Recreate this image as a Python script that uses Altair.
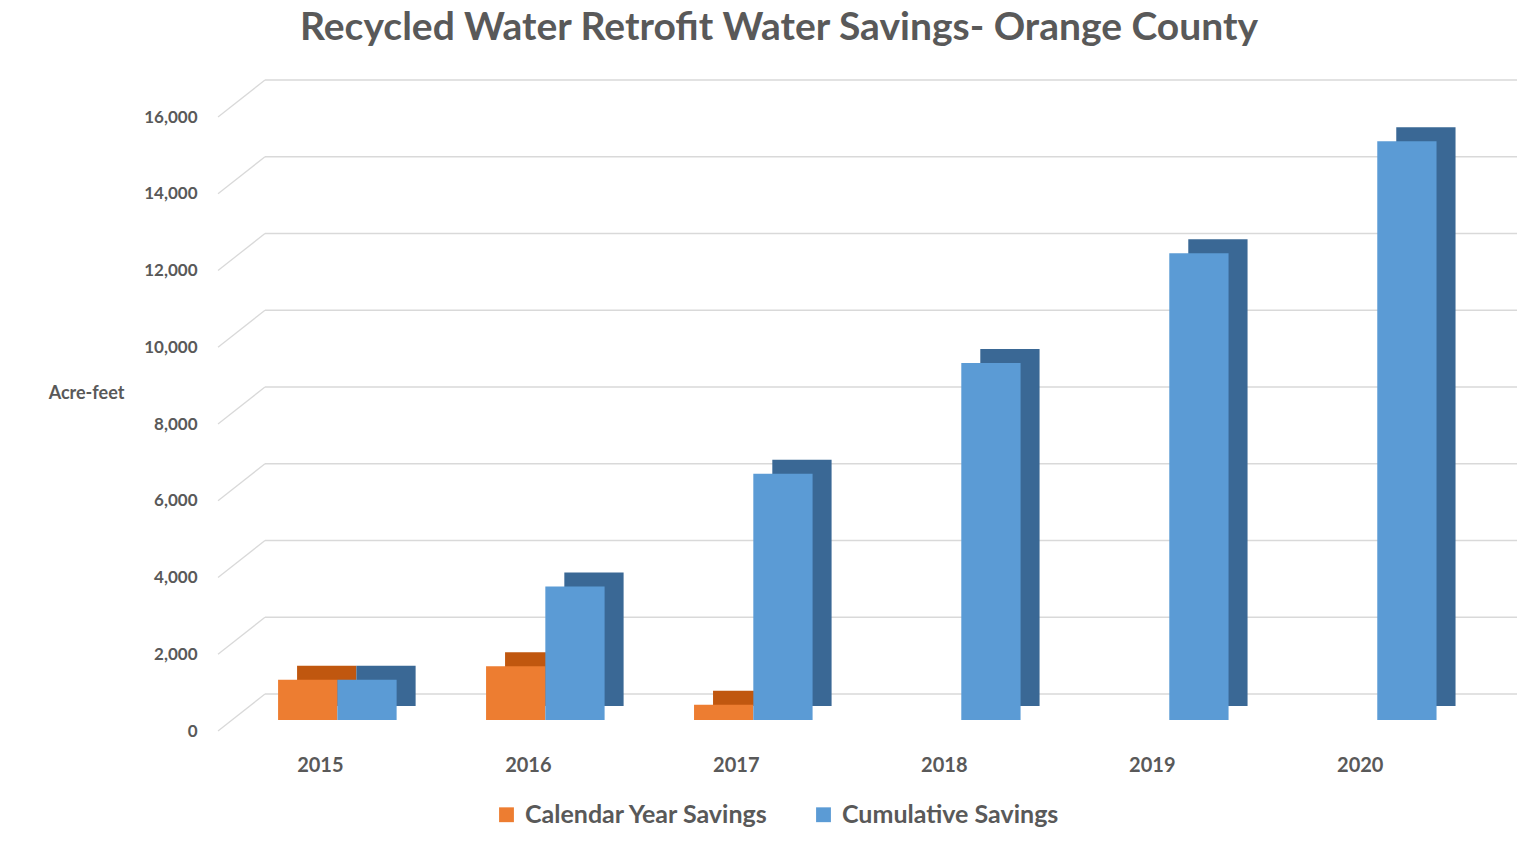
import altair as alt
import pandas as pd

years = ["2015", "2016", "2017", "2018", "2019", "2020"]
calendar_savings = [1050, 1400, 400, None, None, None]
cumulative_savings = [1050, 3480, 6420, 9300, 12160, 15080]
series_names = ["Calendar Year Savings", "Cumulative Savings"]
tick_values = [0, 2000, 4000, 6000, 8000, 10000, 12000, 14000, 16000]
front_colors = ["#ED7D31", "#5B9BD5"]
dark_colors = ["#C0570F", "#3A6895"]

rows = []
for i, y in enumerate(years):
    rows.append({"Year": y, "Series": series_names[0], "Value": calendar_savings[i]})
    rows.append({"Year": y, "Series": series_names[1], "Value": cumulative_savings[i]})
df = pd.DataFrame(rows)
grid_df = pd.DataFrame({"Value": tick_values})

FONT = "Lato"
GREY = "#595959"
W, H = 1287, 614
STEP = W / (6 - 0.43 + 2 * 0.309)
BW = STEP * 0.57

y_scale = alt.Scale(domain=[0, 16000], nice=False)

x_enc = alt.X(
    "Year:N",
    title=None,
    sort=years,
    scale=alt.Scale(paddingInner=0.43, paddingOuter=0.309, align=0.374),
    axis=alt.Axis(
        labelAngle=0, domain=False, ticks=False, labelFont=FONT, labelFontSize=20,
        labelFontWeight="bold", labelColor=GREY, labelPadding=35, labelOffset=-17,
    ),
)
y_axis = alt.Axis(
    title="Acre-feet", titleAngle=0, titleX=-144, titleY=287, titleAlign="center",
    titleBaseline="middle", titleFont=FONT, titleFontSize=18, titleFontWeight="bold",
    titleColor=GREY, values=tick_values, format=",d",
    labelFont=FONT, labelFontSize=17, labelFontWeight="bold", labelColor=GREY,
    labelPadding=33, labelOffset=11, domain=False, ticks=False, grid=False,
)
y_enc = alt.Y("Value:Q", scale=y_scale, axis=y_axis)

# back-wall gridlines
grid = alt.Chart(grid_df).mark_rule(color="#D9D9D9", strokeWidth=1.3, yOffset=-26, y2Offset=-26).encode(
    y=y_enc,
    x=alt.value(35),
    x2=alt.value(W),
)
# side-wall diagonals
diag = alt.Chart(grid_df).mark_rule(color="#D9D9D9", strokeWidth=1.3, yOffset=11, y2Offset=-26).encode(
    y=y_enc,
    y2="Value:Q",
    x=alt.value(-12),
    x2=alt.value(35),
)

back = alt.Chart(df).mark_bar(yOffset=-14, y2Offset=-14).encode(
    x=x_enc,
    y=y_enc,
    xOffset=alt.XOffset("Series:N", sort=series_names, scale=alt.Scale(range=[19, 19 + BW])),
    color=alt.Color("Series:N", scale=alt.Scale(domain=series_names, range=dark_colors), legend=None),
)

front = alt.Chart(df).mark_bar().encode(
    x=x_enc,
    y=y_enc,
    xOffset=alt.XOffset("Series:N", sort=series_names, scale=alt.Scale(range=[0, BW])),
    color=alt.Color(
        "Series:N",
        scale=alt.Scale(domain=series_names, range=front_colors),
        legend=alt.Legend(
            title=None, orient="none", direction="horizontal", legendX=264, legendY=696,
            symbolType="square", symbolSize=220, symbolStrokeWidth=0,
            labelFont=FONT, labelFontSize=25, labelFontWeight="bold", labelColor=GREY,
            labelLimit=0, columnPadding=42, labelOffset=6,
        ),
    ),
)

chart = (
    alt.layer(grid, diag, back, front)
    .resolve_scale(color="independent", xOffset="independent")
    .properties(
        width=W,
        height=H,
        autosize=alt.AutoSizeParams(type="none"),
        padding={"left": 222, "top": 98, "right": 5, "bottom": 113},
        title=alt.TitleParams(
            "Recycled Water Retrofit  Water Savings- Orange County",
            font=FONT, fontSize=39, fontWeight="bold", color=GREY, anchor="start",
            frame="group", dx=70, offset=31,
        ),
    )
    .configure(background="white")
    .configure_view(strokeWidth=0, stroke=None)
)

chart.save("out.html", embed_options={"renderer": "svg", "actions": False})
